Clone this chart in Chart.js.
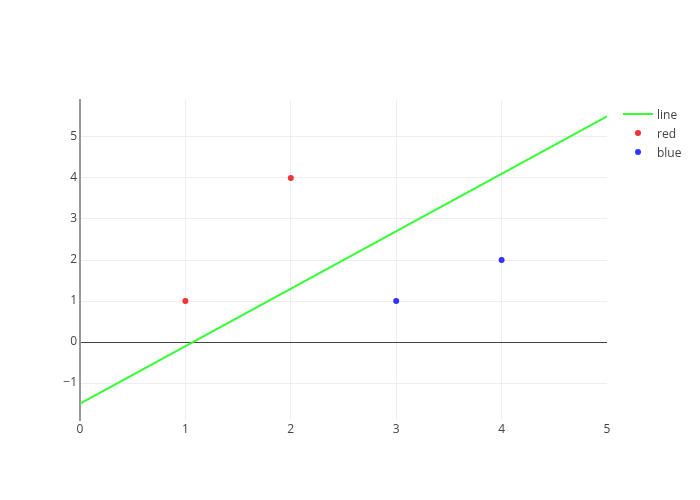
<!DOCTYPE html>
<html>
<head>
<meta charset="utf-8">
<script src="https://cdn.jsdelivr.net/npm/chart.js@4"></script>
<style>
  body { margin: 0; background: #fff; }
  canvas { display: block; }
</style>
</head>
<body>
<canvas id="chart" width="700" height="500"></canvas>
<script>
// series data
const lineX = [0, 5];
const lineY = [-1.5, 5.5];
const redX = [1, 2];
const redY = [1, 4];
const blueX = [3, 4];
const blueY = [1, 2];
const xTicks = [0, 1, 2, 3, 4, 5];
const yTicks = [-1, 0, 1, 2, 3, 4, 5];

function toPoints(xs, ys) {
    return xs.map((x, i) => ({ x: x, y: ys[i] }));
}

const FONT = "'Open Sans', sans-serif";

// legend drawn like plotly's, to the right of the plot
const legendPlugin = {
    id: "plotlyLegend",
    afterDraw(chart) {
        const ctx = chart.ctx;
        const x0 = 623;
        let y = 114;
        ctx.save();
        ctx.font = "12px " + FONT;
        ctx.textBaseline = "middle";
        chart.data.datasets.forEach(ds => {
            if (ds.showLine) {
                ctx.strokeStyle = ds.borderColor;
                ctx.lineWidth = 2;
                ctx.beginPath();
                ctx.moveTo(x0, y);
                ctx.lineTo(x0 + 30, y);
                ctx.stroke();
            } else {
                ctx.fillStyle = ds.backgroundColor;
                ctx.beginPath();
                ctx.arc(x0 + 15, y, 3, 0, Math.PI * 2);
                ctx.fill();
            }
            ctx.fillStyle = "#444";
            ctx.fillText(ds.label, x0 + 34, y + 1.5);
            y += 19;
        });
        ctx.restore();
    }
};

const ctx = document.getElementById("chart").getContext("2d");
new Chart(ctx, {
    type: "scatter",
    data: {
        datasets: [
            {
                label: "line",
                data: toPoints(lineX, lineY),
                showLine: true,
                borderColor: "rgb(51,255,51)",
                backgroundColor: "rgb(51,255,51)",
                borderWidth: 2,
                pointRadius: 0
            },
            {
                label: "red",
                data: toPoints(redX, redY),
                backgroundColor: "rgb(242,51,51)",
                borderWidth: 0,
                pointRadius: 3
            },
            {
                label: "blue",
                data: toPoints(blueX, blueY),
                backgroundColor: "rgb(51,51,255)",
                borderWidth: 0,
                pointRadius: 3
            }
        ]
    },
    options: {
        responsive: false,
        animation: false,
        layout: { padding: { left: 0, top: 100, right: 93, bottom: 0 } },
        plugins: {
            legend: { display: false },
            tooltip: { enabled: false }
        },
        scales: {
            x: {
                type: "linear",
                min: 0,
                max: 5,
                afterFit(scale) { scale.height = 80; },
                afterBuildTicks(scale) { scale.ticks = xTicks.map(v => ({ value: v })); },
                grid: {
                    drawTicks: false,
                    color: c => (c.tick && (c.tick.value === 0 || c.tick.value === 5)) ? "rgba(0,0,0,0)" : "#eee"
                },
                border: { display: false },
                ticks: {
                    padding: 2,
                    color: "#444",
                    font: { family: FONT, size: 12 }
                }
            },
            y: {
                type: "linear",
                min: -1.9,
                max: 5.9,
                afterFit(scale) { scale.width = 80; },
                afterBuildTicks(scale) { scale.ticks = yTicks.map(v => ({ value: v })); },
                grid: {
                    drawTicks: false,
                    color: c => (c.tick && c.tick.value === 0) ? "#444" : "#eee"
                },
                border: { display: true, color: "#999", width: 2 },
                ticks: {
                    padding: 3,
                    color: "#444",
                    font: { family: FONT, size: 12 },
                    callback: v => String(v).replace("-", "\u2212")
                }
            }
        }
    },
    plugins: [legendPlugin]
});
</script>
</body>
</html>
